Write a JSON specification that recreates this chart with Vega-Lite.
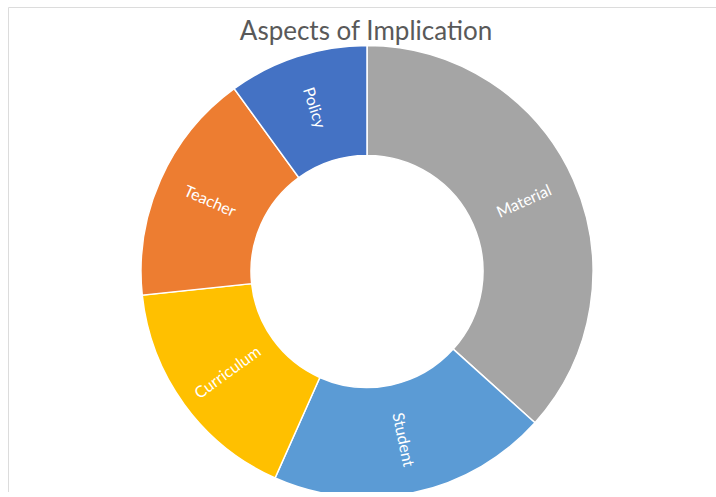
{
  "$schema": "https://vega.github.io/schema/vega-lite/v6.json",
  "width": 708,
  "height": 485,
  "padding": {"left": 8, "top": 7, "right": 0, "bottom": 0},
  "autosize": {"type": "none"},
  "background": "white",
  "view": {"stroke": "#dcdcdc", "strokeWidth": 1},
  "title": {
    "text": "Aspects of Implication",
    "font": "Lato",
    "fontSize": 26,
    "fontWeight": "normal",
    "color": "#595959",
    "anchor": "middle",
    "dx": 4,
    "offset": -38
  },
  "data": {
    "values": [
      {"k": 1, "aspect": "Material", "value": 11},
      {"k": 2, "aspect": "Student", "value": 6},
      {"k": 3, "aspect": "Curriculum", "value": 5},
      {"k": 4, "aspect": "Teacher", "value": 5},
      {"k": 5, "aspect": "Policy", "value": 3}
    ]
  },
  "transform": [
    {"joinaggregate": [{"op": "sum", "field": "value", "as": "total"}]},
    {"window": [{"op": "sum", "field": "value", "as": "cum"}], "sort": [{"field": "k"}], "frame": [null, 0]},
    {"calculate": "(datum.cum - datum.value / 2) / datum.total * 360 - 90", "as": "a0"},
    {"calculate": "datum.a0 > 90 ? datum.a0 - 180 : datum.a0", "as": "labelAngle"}
  ],
  "encoding": {
    "theta": {"field": "value", "type": "quantitative", "stack": true},
    "order": {"field": "k", "type": "quantitative"}
  },
  "layer": [
    {
      "mark": {
        "type": "arc",
        "outerRadius": 226,
        "innerRadius": 116,
        "stroke": "white",
        "strokeWidth": 1.5,
        "x": {"expr": "width / 2 + 5"},
        "y": {"expr": "height / 2 + 22"}
      },
      "encoding": {
        "color": {
          "field": "aspect",
          "type": "nominal",
          "legend": null,
          "scale": {
            "domain": ["Material", "Student", "Curriculum", "Teacher", "Policy"],
            "range": ["#A5A5A5", "#5B9BD5", "#FFC000", "#ED7D31", "#4472C4"]
          }
        }
      }
    },
    {
      "mark": {
        "type": "text",
        "radius": 172,
        "font": "Lato",
        "fontSize": 16,
        "color": "white",
        "align": "center",
        "baseline": "middle",
        "x": {"expr": "width / 2 + 5"},
        "y": {"expr": "height / 2 + 22"}
      },
      "encoding": {
        "text": {"field": "aspect", "type": "nominal"},
        "angle": {"field": "labelAngle", "type": "quantitative", "scale": null}
      }
    }
  ]
}
